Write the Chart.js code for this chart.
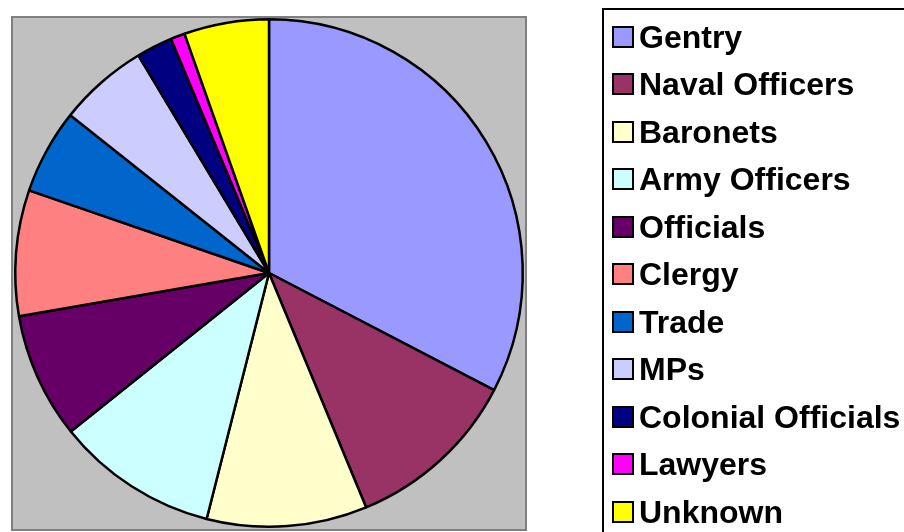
<!DOCTYPE html>
<html>
<head>
<meta charset="utf-8">
<script src="https://cdn.jsdelivr.net/npm/chart.js@4.4.0/dist/chart.umd.min.js"></script>
<style>
  body { margin: 0; background: #fff; width: 904px; height: 532px; overflow: hidden; position: relative; }
  #pieChart { position: absolute; left: 0; top: 0; }
  #legend { position: absolute; left: 602px; top: 8px; width: 400px; height: 600px;
            border-left: 2px solid #000; border-top: 2px solid #000; }
  .item { position: absolute; left: 612px; white-space: nowrap;
          font-family: "Liberation Sans", Arial, sans-serif; font-weight: bold;
          font-size: 32px; line-height: 1; color: #000; }
  .swatch { display: inline-block; width: 18px; height: 18px; border: 2px solid #000;
            margin-right: 5px; vertical-align: baseline; }
</style>
</head>
<body>
<canvas id="pieChart" width="904" height="532"></canvas>
<div id="legend"></div>
<script>
var labels = ['Gentry', 'Naval Officers', 'Baronets', 'Army Officers', 'Officials', 'Clergy',
              'Trade', 'MPs', 'Colonial Officials', 'Lawyers', 'Unknown'];
var shares = [32.6, 11.1, 10.2, 10.3, 8.0, 8.0, 5.4, 5.7, 2.3, 0.9, 5.4];
var colours = ['#9999FF', '#993366', '#FFFFCC', '#CCFFFF', '#660066', '#FF8080',
               '#0066CC', '#CCCCFF', '#000080', '#FF00FF', '#FFFF00'];

// grey plot area behind the pie
var plotBg = {
  id: 'plotBg',
  beforeDraw: function (chart) {
    var c = chart.ctx;
    c.save();
    c.fillStyle = '#C0C0C0';
    c.fillRect(12, 17, 514, 513);
    c.strokeStyle = '#808080';
    c.lineWidth = 2;
    c.strokeRect(12, 17, 514, 513);
    c.restore();
  }
};

var ctx = document.getElementById('pieChart').getContext('2d');
var myChart = new Chart(ctx, {
  type: 'pie',
  data: {
    labels: labels,
    datasets: [{
      data: shares,
      backgroundColor: colours,
      borderColor: '#000',
      borderWidth: 2.5
    }]
  },
  options: {
    responsive: false,
    animation: false,
    events: [],
    layout: { padding: { left: 14, top: 18, right: 380, bottom: 4 } },
    plugins: {
      legend: { display: false },
      tooltip: { enabled: false }
    }
  },
  plugins: [plotBg]
});

// html legend built from the same arrays
var legend = document.body;
labels.forEach(function (name, i) {
  var row = document.createElement('div');
  row.className = 'item';
  row.style.top = (48 + i * 47.5 - 27.1) + 'px';
  var sw = document.createElement('span');
  sw.className = 'swatch';
  sw.style.background = colours[i];
  row.appendChild(sw);
  row.appendChild(document.createTextNode(name));
  legend.appendChild(row);
});
</script>
</body>
</html>
